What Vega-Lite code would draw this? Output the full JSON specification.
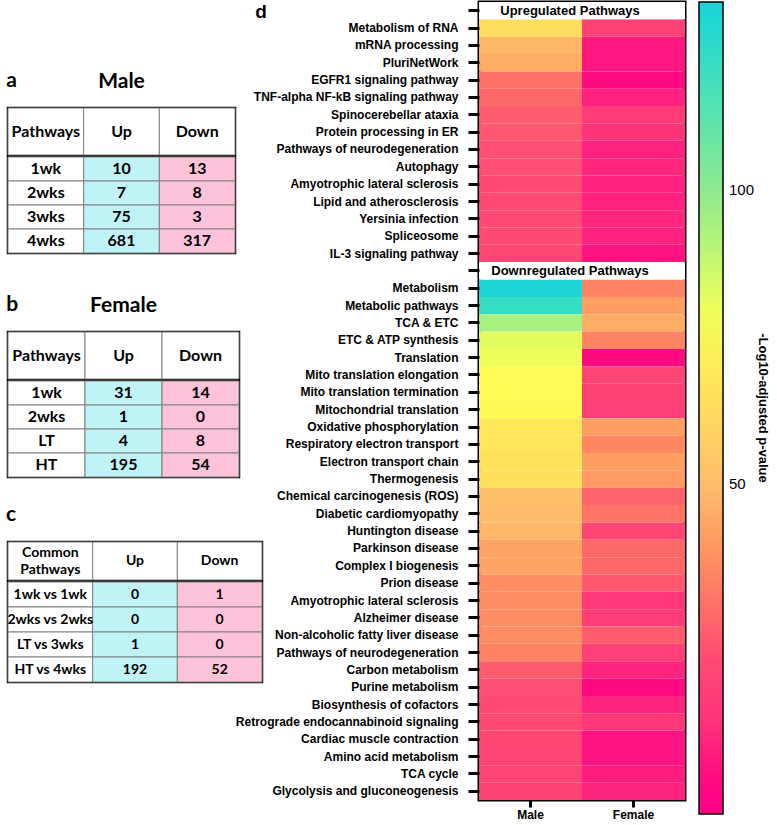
{
  "$schema": "https://vega.github.io/schema/vega-lite/v6.json",
  "padding": {"left": 6, "top": 0, "right": 0, "bottom": 0},
  "background": "white",
  "config": {
    "view": {"stroke": "black", "strokeWidth": 2.5},
    "font": "Liberation Sans",
    "title": {"color": "black"}
  },
  "datasets": {
    "heat": [
      {"pathway": "Metabolism of RNA", "Male": 64, "Female": 16},
      {"pathway": "mRNA processing", "Male": 48, "Female": 2},
      {"pathway": "PluriNetWork", "Male": 45, "Female": 2},
      {"pathway": "EGFR1 signaling pathway", "Male": 29, "Female": 0},
      {"pathway": "TNF-alpha NF-kB signaling pathway", "Male": 27, "Female": 4},
      {"pathway": "Spinocerebellar ataxia", "Male": 24, "Female": 13},
      {"pathway": "Protein processing in ER", "Male": 23, "Female": 10},
      {"pathway": "Pathways of neurodegeneration ", "Male": 21, "Female": 4},
      {"pathway": "Autophagy", "Male": 21, "Female": 6},
      {"pathway": "Amyotrophic lateral sclerosis\u200b", "Male": 20, "Female": 4},
      {"pathway": "Lipid and atherosclerosis", "Male": 20, "Female": 4},
      {"pathway": "Yersinia infection", "Male": 20, "Female": 6},
      {"pathway": "Spliceosome", "Male": 20, "Female": 4},
      {"pathway": "IL-3 signaling pathway", "Male": 19, "Female": 1},
      {"pathway": "Metabolism", "Male": 131, "Female": 34},
      {"pathway": "Metabolic pathways", "Male": 122, "Female": 41},
      {"pathway": "TCA & ETC", "Male": 94, "Female": 45},
      {"pathway": "ETC & ATP synthesis", "Male": 82, "Female": 34},
      {"pathway": "Translation", "Male": 80, "Female": 0},
      {"pathway": "Mito translation elongation", "Male": 76, "Female": 17},
      {"pathway": "Mito translation termination", "Male": 76, "Female": 16},
      {"pathway": "Mitochondrial translation", "Male": 75, "Female": 15},
      {"pathway": "Oxidative phosphorylation", "Male": 68, "Female": 41},
      {"pathway": "Respiratory electron transport", "Male": 67, "Female": 35},
      {"pathway": "Electron transport chain", "Male": 66, "Female": 41},
      {"pathway": "Thermogenesis", "Male": 65, "Female": 40},
      {"pathway": "Chemical carcinogenesis (ROS)", "Male": 51, "Female": 26},
      {"pathway": "Diabetic cardiomyopathy", "Male": 50, "Female": 30},
      {"pathway": "Huntington disease", "Male": 48, "Female": 18},
      {"pathway": "Parkinson disease", "Male": 43, "Female": 27},
      {"pathway": "Complex I biogenesis", "Male": 43, "Female": 27},
      {"pathway": "Prion disease", "Male": 37, "Female": 23},
      {"pathway": "Amyotrophic lateral sclerosis", "Male": 36, "Female": 12},
      {"pathway": "Alzheimer disease", "Male": 36, "Female": 13},
      {"pathway": "Non-alcoholic fatty liver disease", "Male": 36, "Female": 24},
      {"pathway": "Pathways of neurodegeneration", "Male": 34, "Female": 15},
      {"pathway": "Carbon metabolism", "Male": 24, "Female": 5},
      {"pathway": "Purine metabolism", "Male": 21, "Female": 0},
      {"pathway": "Biosynthesis of cofactors", "Male": 20, "Female": 5},
      {"pathway": "Retrograde endocannabinoid signaling", "Male": 20, "Female": 12},
      {"pathway": "Cardiac muscle contraction", "Male": 18, "Female": 1},
      {"pathway": "Amino acid metabolism", "Male": 17, "Female": 1},
      {"pathway": "TCA cycle", "Male": 17, "Female": 3},
      {"pathway": "Glycolysis and gluconeogenesis", "Male": 16, "Female": 5}
    ],
    "heads": [
      {"pathway": "Upregulated Pathways"},
      {"pathway": "Downregulated Pathways"}
    ]
  },
  "spacing": -31,
  "hconcat": [
    {
      "spacing": 38,
      "vconcat": [
        {"data": {"values": []}, "mark": "point", "width": 20, "height": 29, "view": {"stroke": null}},
        {
          "title": {"text": "a", "anchor": "start", "frame": "bounds", "font": "Lato", "fontSize": 21, "fontWeight": "bold", "offset": -22},
          "spacing": -2.5,
          "vconcat": [
            {
              "width": 227, "height": 47,
              "title": {"text": "Male", "font": "Lato", "fontSize": 21, "fontWeight": "bold", "offset": 16},
              "data": {"values": [{"col": "Pathways", "label": "Pathways"}, {"col": "Up", "label": "Up"}, {"col": "Down", "label": "Down"}]},
              "encoding": {"x": {"field": "col", "type": "nominal", "axis": null, "scale": {"domain": ["Pathways", "Up", "Down"], "paddingInner": 0, "paddingOuter": 0}}},
              "layer": [
                {"mark": {"type": "rect", "fill": "white", "stroke": "#808080", "strokeWidth": 1}},
                {"mark": {"type": "text", "font": "Lato", "fontSize": 16, "fontWeight": "bold", "color": "black"}, "encoding": {"text": {"field": "label"}}}
              ]
            },
            {
              "width": 227, "height": 96,
              "data": {"values": [
                {"Pathways": "1wk", "Up": "10", "Down": "13"},
                {"Pathways": "2wks", "Up": "7", "Down": "8"},
                {"Pathways": "3wks", "Up": "75", "Down": "3"},
                {"Pathways": "4wks", "Up": "681", "Down": "317"}
              ]},
              "transform": [{"fold": ["Pathways", "Up", "Down"], "as": ["col", "val"]}],
              "encoding": {
                "x": {"field": "col", "type": "nominal", "axis": null, "scale": {"domain": ["Pathways", "Up", "Down"], "paddingInner": 0, "paddingOuter": 0}},
                "y": {"field": "Pathways", "type": "nominal", "axis": null, "sort": null, "scale": {"paddingInner": 0, "paddingOuter": 0}}
              },
              "layer": [
                {"mark": {"type": "rect", "stroke": "#808080", "strokeWidth": 1}, "encoding": {"fill": {"field": "col", "type": "nominal", "legend": null, "scale": {"domain": ["Pathways", "Up", "Down"], "range": ["#ffffff", "#bff3f6", "#fec3da"]}}}},
                {"mark": {"type": "text", "font": "Lato", "fontSize": 16, "fontWeight": "bold", "color": "black"}, "encoding": {"text": {"field": "val"}}}
              ]
            }
          ]
        },
        {
          "spacing": 25,
          "vconcat": [
            {
              "title": {"text": "b", "anchor": "start", "frame": "bounds", "font": "Lato", "fontSize": 21, "fontWeight": "bold", "offset": -22},
              "spacing": -2.5,
              "vconcat": [
                {
                  "width": 231, "height": 47,
                  "title": {"text": "Female", "font": "Lato", "fontSize": 21, "fontWeight": "bold", "offset": 16},
                  "data": {"values": [{"col": "Pathways", "label": "Pathways"}, {"col": "Up", "label": "Up"}, {"col": "Down", "label": "Down"}]},
                  "encoding": {"x": {"field": "col", "type": "nominal", "axis": null, "scale": {"domain": ["Pathways", "Up", "Down"], "paddingInner": 0, "paddingOuter": 0}}},
                  "layer": [
                    {"mark": {"type": "rect", "fill": "white", "stroke": "#808080", "strokeWidth": 1}},
                    {"mark": {"type": "text", "font": "Lato", "fontSize": 16, "fontWeight": "bold", "color": "black"}, "encoding": {"text": {"field": "label"}}}
                  ]
                },
                {
                  "width": 231, "height": 96,
                  "data": {"values": [
                    {"Pathways": "1wk", "Up": "31", "Down": "14"},
                    {"Pathways": "2wks", "Up": "1", "Down": "0"},
                    {"Pathways": "LT", "Up": "4", "Down": "8"},
                    {"Pathways": "HT", "Up": "195", "Down": "54"}
                  ]},
                  "transform": [{"fold": ["Pathways", "Up", "Down"], "as": ["col", "val"]}],
                  "encoding": {
                    "x": {"field": "col", "type": "nominal", "axis": null, "scale": {"domain": ["Pathways", "Up", "Down"], "paddingInner": 0, "paddingOuter": 0}},
                    "y": {"field": "Pathways", "type": "nominal", "axis": null, "sort": null, "scale": {"paddingInner": 0, "paddingOuter": 0}}
                  },
                  "layer": [
                    {"mark": {"type": "rect", "stroke": "#808080", "strokeWidth": 1}, "encoding": {"fill": {"field": "col", "type": "nominal", "legend": null, "scale": {"domain": ["Pathways", "Up", "Down"], "range": ["#ffffff", "#bff3f6", "#fec3da"]}}}},
                    {"mark": {"type": "text", "font": "Lato", "fontSize": 16, "fontWeight": "bold", "color": "black"}, "encoding": {"text": {"field": "val"}}}
                  ]
                }
              ]
            },
            {
              "title": {"text": "c", "anchor": "start", "frame": "bounds", "font": "Lato", "fontSize": 21, "fontWeight": "bold", "offset": 15},
              "spacing": -2.5,
              "vconcat": [
                {
                  "width": 254, "height": 38,
                  "data": {"values": [{"col": "Pathways", "label": "Common\nPathways"}, {"col": "Up", "label": "Up"}, {"col": "Down", "label": "Down"}]},
                  "encoding": {"x": {"field": "col", "type": "nominal", "axis": null, "scale": {"domain": ["Pathways", "Up", "Down"], "paddingInner": 0, "paddingOuter": 0}}},
                  "layer": [
                    {"mark": {"type": "rect", "fill": "white", "stroke": "#808080", "strokeWidth": 1}},
                    {"transform": [{"filter": "datum.col == 'Pathways'"}], "mark": {"type": "text", "font": "Lato", "fontSize": 14, "fontWeight": "bold", "color": "black", "lineBreak": "\n", "lineHeight": 17, "dy": -8.5}, "encoding": {"text": {"field": "label"}}},
                    {"transform": [{"filter": "datum.col != 'Pathways'"}], "mark": {"type": "text", "font": "Lato", "fontSize": 14, "fontWeight": "bold", "color": "black"}, "encoding": {"text": {"field": "label"}}}
                  ]
                },
                {
                  "width": 254, "height": 100,
                  "data": {"values": [
                    {"Pathways": "1wk vs 1wk", "Up": "0", "Down": "1"},
                    {"Pathways": "2wks vs 2wks", "Up": "0", "Down": "0"},
                    {"Pathways": "LT vs 3wks", "Up": "1", "Down": "0"},
                    {"Pathways": "HT vs 4wks", "Up": "192", "Down": "52"}
                  ]},
                  "transform": [{"fold": ["Pathways", "Up", "Down"], "as": ["col", "val"]}],
                  "encoding": {
                    "x": {"field": "col", "type": "nominal", "axis": null, "scale": {"domain": ["Pathways", "Up", "Down"], "paddingInner": 0, "paddingOuter": 0}},
                    "y": {"field": "Pathways", "type": "nominal", "axis": null, "sort": null, "scale": {"paddingInner": 0, "paddingOuter": 0}}
                  },
                  "layer": [
                    {"mark": {"type": "rect", "stroke": "#808080", "strokeWidth": 1}, "encoding": {"fill": {"field": "col", "type": "nominal", "legend": null, "scale": {"domain": ["Pathways", "Up", "Down"], "range": ["#ffffff", "#bff3f6", "#fec3da"]}}}},
                    {"mark": {"type": "text", "font": "Lato", "fontSize": 14, "fontWeight": "bold", "color": "black"}, "encoding": {"text": {"field": "val"}}}
                  ]
                }
              ]
            }
          ]
        }
      ]
    },
    {
      "title": {"text": "d", "anchor": "start", "frame": "bounds", "font": "Liberation Sans", "fontSize": 19, "fontWeight": "bold", "offset": -20, "dx": 20},
      "width": 206,
      "height": 798,
      "view": {"stroke": "black", "strokeWidth": 3},
      "encoding": {
        "y": {
          "field": "pathway", "type": "nominal",
          "scale": {"paddingInner": 0, "paddingOuter": 0, "domain": [
            "Upregulated Pathways", "Metabolism of RNA", "mRNA processing", "PluriNetWork", "EGFR1 signaling pathway", "TNF-alpha NF-kB signaling pathway", "Spinocerebellar ataxia", "Protein processing in ER", "Pathways of neurodegeneration ", "Autophagy", "Amyotrophic lateral sclerosis\u200b", "Lipid and atherosclerosis", "Yersinia infection", "Spliceosome", "IL-3 signaling pathway",
            "Downregulated Pathways", "Metabolism", "Metabolic pathways", "TCA & ETC", "ETC & ATP synthesis", "Translation", "Mito translation elongation", "Mito translation termination", "Mitochondrial translation", "Oxidative phosphorylation", "Respiratory electron transport", "Electron transport chain", "Thermogenesis", "Chemical carcinogenesis (ROS)", "Diabetic cardiomyopathy", "Huntington disease", "Parkinson disease", "Complex I biogenesis", "Prion disease", "Amyotrophic lateral sclerosis", "Alzheimer disease", "Non-alcoholic fatty liver disease", "Pathways of neurodegeneration", "Carbon metabolism", "Purine metabolism", "Biosynthesis of cofactors", "Retrograde endocannabinoid signaling", "Cardiac muscle contraction", "Amino acid metabolism", "TCA cycle", "Glycolysis and gluconeogenesis"
          ]},
          "axis": {
            "title": null, "domain": false, "grid": false,
            "tickColor": "black", "tickWidth": 3, "tickSize": 11,
            "labelPadding": 10, "labelFont": "Liberation Sans", "labelFontSize": 12, "labelFontWeight": "bold", "labelColor": "black", "labelLimit": 400,
            "labelExpr": "datum.label == 'Upregulated Pathways' || datum.label == 'Downregulated Pathways' ? '' : datum.label"
          }
        }
      },
      "layer": [
        {
          "data": {"name": "heat"},
          "transform": [{"fold": ["Male", "Female"], "as": ["sex", "value"]}],
          "mark": {"type": "rect"},
          "encoding": {
            "x": {
              "field": "sex", "type": "nominal",
              "scale": {"domain": ["Male", "Female"], "paddingInner": 0, "paddingOuter": 0},
              "axis": {"title": null, "orient": "bottom", "labelAngle": 0, "domain": false, "tickColor": "black", "tickWidth": 3, "tickSize": 7, "labelPadding": 2, "labelFont": "Liberation Sans", "labelFontSize": 12, "labelFontWeight": "bold", "labelColor": "black"}
            },
            "color": {
              "field": "value", "type": "quantitative",
              "scale": {"domain": [-6, 0, 20, 50, 77, 100, 132], "range": ["#ff0088", "#ff0a82", "#ff4a74", "#ffbd6c", "#ffff55", "#8fe98f", "#1ad4d8"]},
              "legend": {
                "title": "-Log10-adjusted p-value", "orient": "right", "offset": 12,
                "gradientLength": 812, "gradientThickness": 24, "gradientStrokeColor": "black", "gradientStrokeWidth": 1.5,
                "values": [50, 100], "labelFont": "Liberation Sans", "labelFontSize": 15, "labelOffset": 6, "labelColor": "black",
                "titleOrient": "right", "titleAngle": 90, "titleAnchor": "middle", "titleFont": "Liberation Sans", "titleFontSize": 13, "titleFontWeight": "bold", "titleColor": "black", "titlePadding": 2
              }
            }
          }
        },
        {
          "data": {"name": "heads"},
          "mark": {"type": "rect", "fill": "white"}
        },
        {
          "data": {"name": "heads"},
          "mark": {"type": "text", "font": "Liberation Sans", "fontSize": 13, "fontWeight": "bold", "color": "black", "dx": -12},
          "encoding": {"text": {"field": "pathway"}}
        }
      ]
    }
  ]
}
